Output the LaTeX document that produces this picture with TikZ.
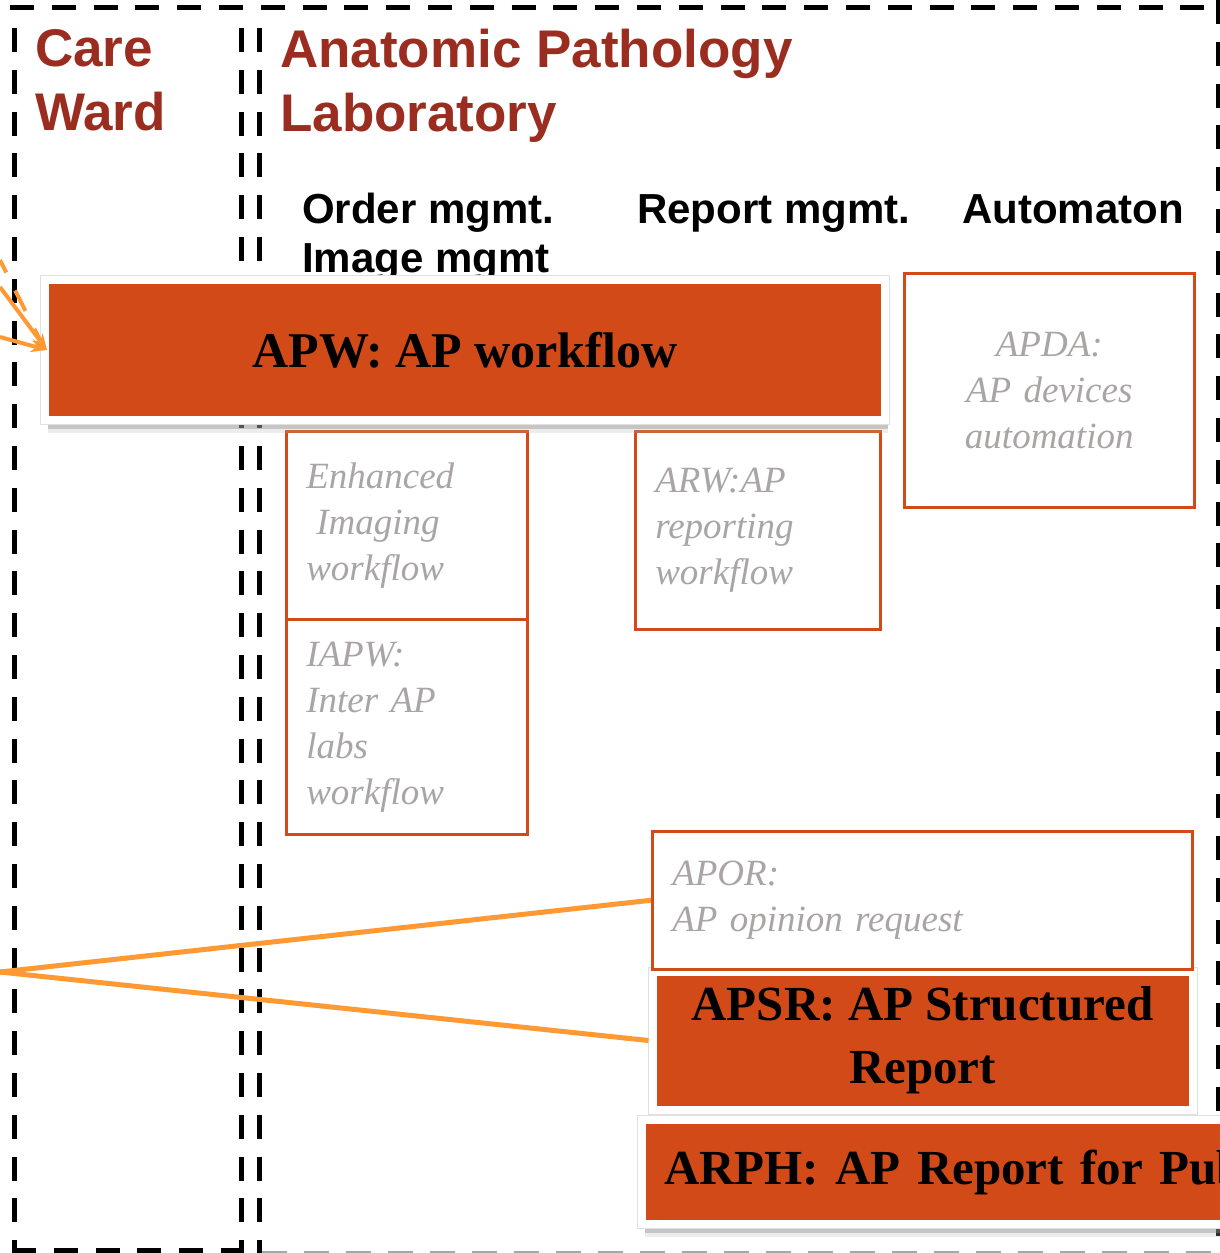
\documentclass[tikz,border=0pt]{standalone}
\usepackage{fontspec}
\setmainfont{Liberation Serif}
\newfontfamily\headfont{Liberation Sans}
\usetikzlibrary{arrows.meta,shadows}
\definecolor{apred}{HTML}{9B2D20}
\definecolor{aporange}{HTML}{D14A18}
\definecolor{linkorange}{HTML}{FF9933}
\definecolor{softgray}{HTML}{A8A5A4}
\begin{document}
\begin{tikzpicture}[x=1pt,y=-1pt,
  dashline/.style={black, line width=5pt, dash pattern=on 24pt off 17.8pt},
  titletext/.style={font=\headfont\bfseries\fontsize{53}{64}\selectfont, text=apred, align=left, inner sep=0pt, anchor=north west},
  colhead/.style={font=\headfont\bfseries\fontsize{42}{49}\selectfont, align=left, inner sep=0pt},
  subbox/.style={draw=aporange, line width=2.5pt, fill=white, text=softgray,
    font=\itshape\fontsize{37}{46}\selectfont, align=left, inner xsep=20pt, inner ysep=0pt, anchor=north west},
  mainbox/.style={draw=white, line width=8pt, fill=aporange, text=black,
    general shadow={fill=black!30, opacity=0.25, shadow xshift=3pt, shadow yshift=-13pt},
    general shadow={fill=black!45, opacity=0.4, shadow xshift=3pt, shadow yshift=-9pt},
    preaction={draw=black!12, line width=10pt}},
  link/.style={linkorange, line width=5pt},
  inlink/.style={linkorange, line width=4pt}
]
\useasboundingbox (0,0) rectangle (1220,1253);
\clip (0,0) rectangle (1220,1253);

% swim-lane frames
\draw[dashline] (10,7) -- (1205,7);
\draw[dashline] (14,28) -- (14,1250);
\draw[dashline] (12,1250) -- (243,1250);
\draw[dashline] (241,28) -- (241,1253);
\draw[dashline] (259,28) -- (259,1253);
\draw[dashline] (1218,0) -- (1218,1253);
\draw[black!35, line width=2pt, dash pattern=on 25pt off 17pt] (262,1252) -- (1220,1252);

% titles
\node[titletext] (ward) at (35,29) {Care\\Ward};
\node[titletext] (aplab) at (280,29) {Anatomic Pathology\\Laboratory};

% column headings
\node[colhead, anchor=north west] (colorder) at (302,193) {Order mgmt.\\Image mgmt};
\node[colhead, anchor=base west] (colreport) at (637,223) {Report mgmt.};
\node[colhead, anchor=base west] (colauto) at (962,223) {Automaton};

% secondary profiles
\node[subbox, text width=201pt, minimum height=188pt] (eiw) at (285,430)
  {Enhanced\\\hspace*{10pt}Imaging\\workflow};
\node[subbox, text width=201pt, minimum height=215pt] (iapw) at (285,618)
  {IAPW:\\Inter AP\\labs\\workflow};
\node[subbox, text width=205pt, minimum height=198pt] (arw) at (634,430)
  {ARW:AP\\reporting\\workflow};
\node[subbox, text width=250pt, minimum height=234pt, align=center] (apda) at (903,272)
  {APDA:\\AP devices\\automation};

% main profiles
\node[mainbox, minimum width=840pt, minimum height=140pt,
  font=\bfseries\fontsize{50}{60}\selectfont] (apw) at (465,350) {APW: AP workflow};
\node[mainbox, minimum width=540pt, minimum height=138pt, align=center,
  font=\bfseries\fontsize{49}{63}\selectfont] (apsr) at (922.5,1040.5) {APSR: AP Structured\\Report};
\node[mainbox, anchor=west, minimum height=104pt, inner xsep=22pt, text width=800pt, align=left,
  font=\bfseries\fontsize{49}{60}\selectfont] (arph) at (638,1172) {ARPH: AP Report for Public Health};

% opinion request (drawn above the APSR frame)
\node[subbox, text width=500pt, minimum height=138pt] (apor) at (651,830)
  {APOR:\\AP opinion request};

% connectors
\coordinate (wardlink) at (0,972);
\draw[link] (wardlink) -- (apor.west);
\draw[link] (wardlink) -- (apsr.west);

\coordinate (inD) at (0,260);
\coordinate (inB) at (0,287);
\coordinate (inC) at (0,337);
\draw[inlink, dash pattern=on 23pt off 20pt, dash phase=9pt] (inD) -- ([xshift=4pt]apw.west);
\draw[inlink, -{Stealth[length=16pt,width=13pt]}] (inB) -- ([xshift=6pt]apw.west);
\draw[inlink, -{Stealth[length=16pt,width=13pt]}] (inC) -- ([xshift=6pt]apw.west);
\end{tikzpicture}
\end{document}
